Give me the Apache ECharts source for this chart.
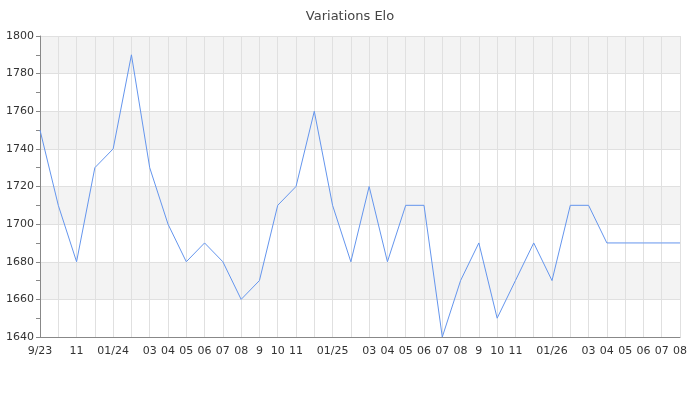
<!DOCTYPE html>
<html>
<head>
<meta charset="utf-8">
<script src="https://cdn.jsdelivr.net/npm/echarts@6/dist/echarts.min.js"></script>
<style>html,body{margin:0;padding:0;background:#fff}#c{width:700px;height:400px}</style>
</head>
<body>
<div id="c"></div>
<script>
const months = ['2023-09','2023-10','2023-11','2023-12','2024-01','2024-02','2024-03','2024-04','2024-05','2024-06','2024-07','2024-08',
  '2024-09','2024-10','2024-11','2024-12','2025-01','2025-02','2025-03','2025-04','2025-05','2025-06','2025-07','2025-08',
  '2025-09','2025-10','2025-11','2025-12','2026-01','2026-02','2026-03','2026-04','2026-05','2026-06','2026-07','2026-08'];
const tickLabels = ['9/23','','11','','01/24','','03','04','05','06','07','08',
  '9','10','11','','01/25','','03','04','05','06','07','08',
  '9','10','11','','01/26','','03','04','05','06','07','08'];
const elo = [1750,1710,1680,1730,1740,1790,1730,1700,1680,1690,1680,1660,
  1670,1710,1720,1760,1710,1680,1720,1680,1710,1710,1640,1670,
  1690,1650,1670,1690,1670,1710,1710,1690,1690,1690,1690,1690];

const chart = echarts.init(document.getElementById('c'), null, {renderer:'canvas'});
const font = 'DejaVu Sans';
chart.setOption({
  animation:false,
  title:{text:'Variations Elo',left:'center',top:5,textStyle:{fontFamily:font,fontSize:13,fontWeight:'normal',color:'#444'}},
  grid:{left:40,right:20,top:36,bottom:63,containLabel:false},
  xAxis:{
    type:'category',data:months,boundaryGap:false,
    axisLine:{lineStyle:{color:'#888'}},
    axisTick:{show:false},
    axisLabel:{interval:0,formatter:(v,i)=>tickLabels[i],fontFamily:font,fontSize:11,color:'#333',margin:9},
    splitLine:{show:true,interval:0,lineStyle:{color:'#e0e0e0'}}
  },
  yAxis:{
    type:'value',min:1640,max:1800,interval:20,
    axisLine:{show:true,lineStyle:{color:'#888'}},
    axisTick:{show:true,length:4,lineStyle:{color:'#888'}},
    minorTick:{show:true,splitNumber:2,length:4,lineStyle:{color:'#888'}},
    axisLabel:{formatter:v=>String(v),fontFamily:font,fontSize:11,color:'#333',margin:6},
    splitLine:{show:true,lineStyle:{color:'#e0e0e0'}},
    splitArea:{show:true,areaStyle:{color:['#ffffff','#f3f3f3']}}
  },
  series:[{type:'line',data:elo,showSymbol:false,symbol:'none',lineStyle:{width:1,color:'#6495ed'},itemStyle:{color:'#6495ed'}}]
});
</script>
</body>
</html>
